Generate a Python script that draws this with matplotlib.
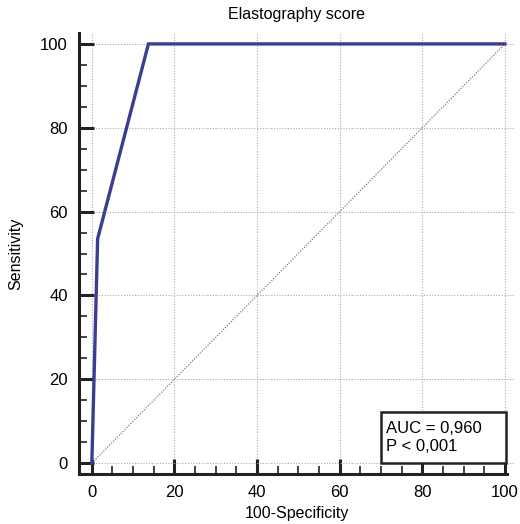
import numpy as np
import matplotlib.pyplot as plt
from matplotlib.patches import Rectangle
from matplotlib.ticker import MultipleLocator

plt.rcParams['font.family'] = ['Liberation Sans', 'DejaVu Sans']

# ROC curve points (100-specificity, sensitivity)
fpr = [0, 1.4, 13.7, 100]
tpr = [0, 53.5, 100, 100]
ref_x = [0, 100]
ref_y = [0, 100]
title = "Elastography score"
auc_text = "AUC = 0,960\nP < 0,001"

fig = plt.figure(figsize=(5.2, 5.24), dpi=100)
ax = fig.add_axes([0.152, 0.0954, 0.838, 0.8416])

ax.plot(ref_x, ref_y, color='#9a6f80', linestyle=(0, (1, 1.2)), linewidth=0.9)
ax.plot(fpr, tpr, color='#3c3c90', linewidth=2.4, solid_joinstyle='miter')

ax.set_xlim(-3.1, 102.4)
ax.set_ylim(-2.6, 102.6)
ax.xaxis.set_major_locator(MultipleLocator(20))
ax.yaxis.set_major_locator(MultipleLocator(20))
ax.xaxis.set_minor_locator(MultipleLocator(5))
ax.yaxis.set_minor_locator(MultipleLocator(5))
ax.grid(True, which='major', color='#aaaaaa', linestyle=(0, (1, 1.5)), linewidth=0.8)
ax.set_axisbelow(True)

for s in ['top', 'right']:
    ax.spines[s].set_visible(False)
for s in ['left', 'bottom']:
    ax.spines[s].set_linewidth(2.2)
    ax.spines[s].set_color('#222222')
ax.spines['bottom'].set_bounds(-3.1, 100.5)

ax.tick_params(which='major', direction='in', length=11, width=2.2, color='#222222', labelsize=12, pad=8)
ax.tick_params(which='minor', direction='in', length=6, width=1.2, color='#222222')

box = Rectangle((70, 0), 30.2, 12.2, facecolor='white', edgecolor='#222222', linewidth=1.8, zorder=5)
ax.add_patch(box)
ax.text(71.3, 6.1, auc_text, fontsize=12, va='center', ha='left', zorder=6, linespacing=1.3)

ax.set_title(title, fontsize=11.5, pad=10)
ax.set_xlabel("100-Specificity", fontsize=11.5, labelpad=4)
ax.set_ylabel("Sensitivity", fontsize=11.5, labelpad=12)

fig.savefig("out.png", dpi=100)
